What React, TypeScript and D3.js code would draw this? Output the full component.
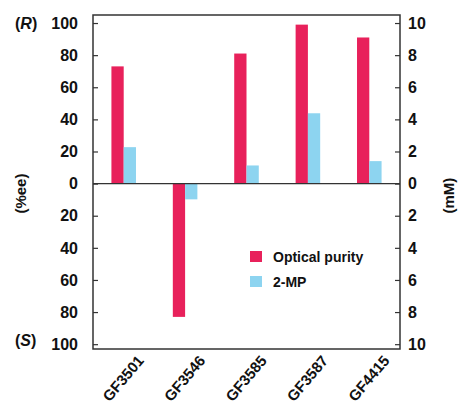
import { useRef, useEffect } from 'react';
import * as d3 from 'd3';

const strains = ['GF3501', 'GF3546', 'GF3585', 'GF3587', 'GF4415'];
// optical purity, %ee (positive = R, negative = S)
const purity = [73, -83, 81, 99, 91];
// 2-MP concentration, mM (drawn against right axis, same direction)
const mp = [2.27, -0.98, 1.13, 4.38, 1.4];
const leftTicks = [100, 80, 60, 40, 20, 0, -20, -40, -60, -80, -100];
const rightTicks = [10, 8, 6, 4, 2, 0, -2, -4, -6, -8, -10];

const W = 464;
const H = 410;
const FRAME = { left: 93, right: 400, top: 15, bottom: 349 };
const RED = '#E8215B';
const BLUE = '#8DD4F0';
const FONT = '"Liberation Sans", Arial, sans-serif';

export default function App() {
  const svgRef = useRef<SVGSVGElement>(null);

  useEffect(() => {
    if (!svgRef.current) return;
    const svg = d3.select(svgRef.current);
    svg.selectAll('*').remove();

    const x = d3.scaleBand<string>().domain(strains)
      .range([FRAME.left, FRAME.right]).paddingInner(0.6).paddingOuter(0.3);
    const sub = d3.scaleBand<string>().domain(['p', 'm']).range([0, x.bandwidth()]);
    const y = d3.scaleLinear().domain([-103, 105]).range([FRAME.bottom, FRAME.top]);
    const yR = d3.scaleLinear().domain([-10.3, 10.5]).range([FRAME.bottom, FRAME.top]);

    const g = svg.append('g').attr('font-family', FONT).attr('font-weight', 'bold');

    // bars
    g.append('g').selectAll('rect.p').data(strains).join('rect')
      .attr('x', (d) => x(d)! + sub('p')!)
      .attr('width', sub.bandwidth())
      .attr('y', (_, i) => y(Math.max(0, purity[i])))
      .attr('height', (_, i) => Math.abs(y(purity[i]) - y(0)))
      .attr('fill', RED);
    g.append('g').selectAll('rect.m').data(strains).join('rect')
      .attr('x', (d) => x(d)! + sub('m')!)
      .attr('width', sub.bandwidth())
      .attr('y', (_, i) => yR(Math.max(0, mp[i])))
      .attr('height', (_, i) => Math.abs(yR(mp[i]) - yR(0)))
      .attr('fill', BLUE);

    // frame + zero line
    g.append('rect')
      .attr('x', FRAME.left).attr('y', FRAME.top)
      .attr('width', FRAME.right - FRAME.left).attr('height', FRAME.bottom - FRAME.top)
      .attr('fill', 'none').attr('stroke', '#333').attr('stroke-width', 1.5);
    g.append('line')
      .attr('x1', FRAME.left).attr('x2', FRAME.right)
      .attr('y1', y(0)).attr('y2', y(0))
      .attr('stroke', '#333').attr('stroke-width', 1.2);

    // left axis (ticks inward)
    const left = g.append('g').attr('transform', `translate(${FRAME.left},0)`)
      .call(d3.axisRight(y).tickValues(leftTicks).tickSize(5).tickFormat(() => ''));
    left.select('.domain').remove();
    left.selectAll('line').attr('stroke', '#333').attr('stroke-width', 1.2);
    g.append('g').selectAll('text').data(leftTicks).join('text')
      .attr('x', FRAME.left - 15).attr('y', (d) => y(d))
      .attr('dy', '0.36em').attr('text-anchor', 'end')
      .attr('font-size', 16).attr('fill', '#111')
      .text((d) => Math.abs(d));

    // right axis
    const right = g.append('g').attr('transform', `translate(${FRAME.right},0)`)
      .call(d3.axisLeft(yR).tickValues(rightTicks).tickSize(5).tickFormat(() => ''));
    right.select('.domain').remove();
    right.selectAll('line').attr('stroke', '#333').attr('stroke-width', 1.2);
    g.append('g').selectAll('text').data(rightTicks).join('text')
      .attr('x', FRAME.right + 8).attr('y', (d) => yR(d))
      .attr('dy', '0.36em').attr('text-anchor', 'start')
      .attr('font-size', 16).attr('fill', '#111')
      .text((d) => Math.abs(d));

    // (R) / (S)
    const rs = [{ t: 'R', v: 100 }, { t: 'S', v: -100 }];
    rs.forEach(({ t, v }) => {
      const txt = g.append('text').attr('x', 15).attr('y', y(v) + (v > 0 ? 0 : -4))
        .attr('dy', '0.36em').attr('font-size', 16).attr('fill', '#111');
      txt.append('tspan').text('(');
      txt.append('tspan').attr('font-style', 'italic').text(t);
      txt.append('tspan').text(')');
    });

    // axis titles
    g.append('text')
      .attr('transform', `translate(26,${y(0) + 10}) rotate(-90)`)
      .attr('text-anchor', 'middle').attr('font-size', 15).attr('fill', '#111')
      .text('(%ee)');
    g.append('text')
      .attr('transform', `translate(454,${y(0) + 12}) rotate(-90)`)
      .attr('text-anchor', 'middle').attr('font-size', 15).attr('fill', '#111')
      .text('(mM)');

    // x labels
    g.append('g').selectAll('text').data(strains).join('text')
      .attr('transform', (d) => `translate(${x(d)! + x.bandwidth() / 2 + 21},${FRAME.bottom + 12}) rotate(-50)`)
      .attr('text-anchor', 'end').attr('font-size', 15).attr('fill', '#111')
      .text((d) => d);

    // legend
    const legend = [{ label: 'Optical purity', color: RED }, { label: '2-MP', color: BLUE }];
    const lg = g.append('g').attr('transform', 'translate(250,251)');
    lg.selectAll('rect').data(legend).join('rect')
      .attr('x', 0).attr('y', (_, i) => i * 25)
      .attr('width', 12).attr('height', 11)
      .attr('fill', (d) => d.color);
    lg.selectAll('text').data(legend).join('text')
      .attr('x', 23).attr('y', (_, i) => i * 25 + 6)
      .attr('dy', '0.36em').attr('font-size', 14).attr('fill', '#111')
      .text((d) => d.label);
  }, []);

  return (
    <svg
      ref={svgRef}
      width={W}
      height={H}
      viewBox={`0 0 ${W} ${H}`}
      style={{ position: 'absolute', left: 0, top: 0, background: '#fff' }}
    />
  );
}
